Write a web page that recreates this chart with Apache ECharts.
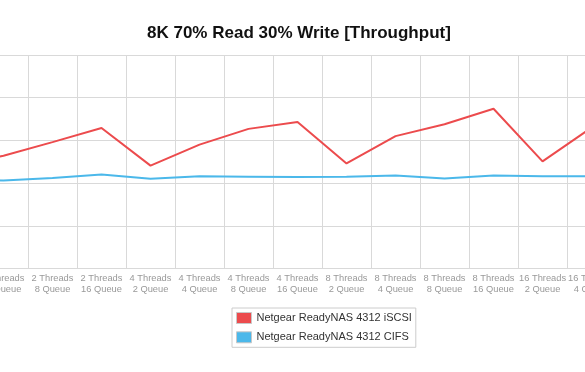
<!DOCTYPE html>
<html>
<head>
<meta charset="utf-8">
<script src="https://cdn.jsdelivr.net/npm/echarts@6/dist/echarts.min.js"></script>
<style>
html,body{margin:0;padding:0;background:#fff;overflow:hidden;width:585px;height:372px;}
#wrap{position:relative;width:585px;height:372px;overflow:hidden;}
#chart{position:absolute;left:-70px;top:0;width:786px;height:372px;}
</style>
</head>
<body>
<div id="wrap"><div id="chart"></div></div>
<script>
var categories = [
  "2 Threads\n2 Queue","2 Threads\n4 Queue","2 Threads\n8 Queue","2 Threads\n16 Queue",
  "4 Threads\n2 Queue","4 Threads\n4 Queue","4 Threads\n8 Queue","4 Threads\n16 Queue",
  "8 Threads\n2 Queue","8 Threads\n4 Queue","8 Threads\n8 Queue","8 Threads\n16 Queue",
  "16 Threads\n2 Queue","16 Threads\n4 Queue","16 Threads\n8 Queue","16 Threads\n16 Queue"
];
var iscsiValues = [24.0, 26.4, 29.6, 32.9, 24.1, 29.0, 32.7, 34.3, 24.6, 31.0, 33.8, 37.4, 25.1, 33.0, null, null];
var cifsValues  = [20.8, 20.6, 21.2, 22.0, 21.0, 21.6, 21.5, 21.4, 21.5, 21.8, 21.1, 21.8, 21.6, 21.6, null, null];
var seriesNames = ["Netgear ReadyNAS 4312 iSCSI", "Netgear ReadyNAS 4312 CIFS"];
var titleText = "8K 70% Read 30% Write [Throughput]";

var chart = echarts.init(document.getElementById('chart'), null, {renderer: 'canvas'});
var font = "'Liberation Sans', Arial, Helvetica, sans-serif";
chart.setOption({
  animation: false,
  color: ['#ec4b4d', '#4bb8ea'],
  title: {
    text: titleText,
    left: 217, top: 25, padding: 0,
    textStyle: {fontFamily: font, fontSize: 17, fontWeight: 'bold', color: '#111'}
  },
  legend: {
    orient: 'vertical',
    left: 302, top: 308,
    padding: 4,
    borderColor: '#cccccc', borderWidth: 1,
    itemWidth: 15, itemHeight: 11, itemGap: 7.3,
    icon: 'rect',
    itemStyle: {borderColor: '#c8c8c8', borderWidth: 1},
    textStyle: {fontFamily: font, fontSize: 11, color: '#333'},
    data: seriesNames
  },
  grid: {left: 0, right: 0, top: 55, height: 213.5, containLabel: false},
  xAxis: {
    type: 'category',
    data: categories,
    boundaryGap: true,
    axisLine: {show: true, lineStyle: {color: '#d9d9d9', width: 1}},
    axisTick: {show: false},
    splitLine: {show: true, lineStyle: {color: '#d9d9d9', width: 1}},
    axisLabel: {interval: 0, margin: 4.5, fontFamily: font, fontSize: 9.3, lineHeight: 11, color: '#999'}
  },
  yAxis: {
    type: 'value', min: 0, max: 50, interval: 10,
    axisLine: {show: false}, axisTick: {show: false}, axisLabel: {show: false},
    splitLine: {show: true, lineStyle: {color: '#d9d9d9', width: 1}}
  },
  series: [
    {name: seriesNames[0], type: 'line', data: iscsiValues, showSymbol: false, symbol: 'none',
     lineStyle: {width: 2, color: '#ec4b4d'}, itemStyle: {color: '#ec4b4d'}},
    {name: seriesNames[1], type: 'line', data: cifsValues, showSymbol: false, symbol: 'none',
     lineStyle: {width: 2, color: '#4bb8ea'}, itemStyle: {color: '#4bb8ea'}}
  ]
});
</script>
</body>
</html>
